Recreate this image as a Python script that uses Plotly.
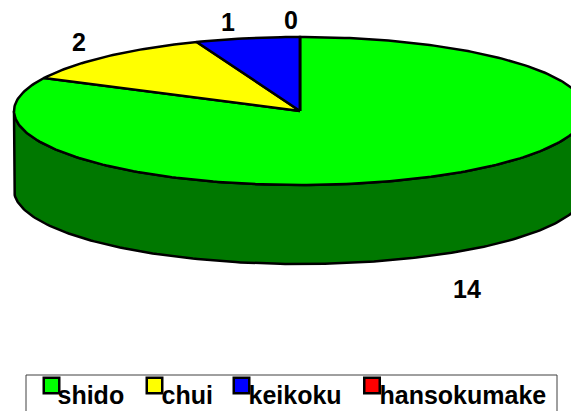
import numpy as np
import plotly.graph_objects as go

categories = ["shido", "chui", "keikoku", "hansokumake"]
values = [14, 2, 1, 0]
colors = ["#00ff00", "#ffff00", "#0000ff", "#ff0000"]
side_color = "#007800"

W, H = 571, 411
CX, CY, RX, RY, DEPTH = 300, 111, 286, 74, 79
LW = 2.5
FONT = dict(family="Liberation Sans, Arial, sans-serif", size=25, color="#000000", weight="bold")
LABEL_POS = [(467, 292), (79, 45), (228, 25), (291, 23)]
LEGEND_SWATCH_X = [51.5, 154.5, 241.5, 372]
LEGEND_TEXT_X = [57.5, 161.5, 248.5, 379.5]


def ell(deg, dy=0):
    a = np.radians(deg)
    return CX + RX * np.sin(a), CY - RY * np.cos(a) + dy


fig = go.Figure()

# side wall: front half of the rim, swept down by DEPTH
front = np.linspace(90, 270, 181)
x1, y1 = ell(front)
x2, y2 = ell(front[::-1], DEPTH)
fig.add_trace(go.Scatter(
    x=np.r_[x1, x2, x1[0]], y=np.r_[y1, y2, y1[0]], mode="lines", fill="toself",
    fillcolor=side_color, line=dict(color="black", width=LW), hoverinfo="skip"))

# top slices, clockwise from 12 o'clock
total = sum(values)
start = 0.0
for name, v, c in zip(categories, values, colors):
    sweep = 360.0 * v / total
    t = np.linspace(start, start + sweep, max(2, int(sweep) + 2))
    ex, ey = ell(t)
    fig.add_trace(go.Scatter(
        x=np.r_[CX, ex, CX], y=np.r_[CY, ey, CY], mode="lines", fill="toself",
        fillcolor=c, line=dict(color="black", width=LW), name=name))
    start += sweep

# data labels
fig.add_trace(go.Scatter(
    x=[p[0] for p in LABEL_POS], y=[p[1] for p in LABEL_POS], mode="text",
    text=[str(v) for v in values], textposition="middle center",
    textfont=FONT, hoverinfo="skip"))

# legend frame (runs past the bottom of the picture)
fig.add_shape(type="rect", x0=26, x1=557, y0=375, y1=430,
              line=dict(color="#404040", width=1), fillcolor="white", layer="below")

# legend swatches and texts
fig.add_trace(go.Scatter(
    x=LEGEND_SWATCH_X, y=[385.5] * 4, mode="markers",
    marker=dict(symbol="square", size=15.5, color=colors, line=dict(color="black", width=2.5)),
    hoverinfo="skip"))
fig.add_trace(go.Scatter(
    x=LEGEND_TEXT_X, y=[398] * 4, mode="text", text=categories,
    textposition="middle right", textfont=FONT, hoverinfo="skip"))

fig.update_layout(
    width=W, height=H,
    margin=dict(l=0, r=0, t=0, b=0), showlegend=False,
    paper_bgcolor="white", plot_bgcolor="white",
    xaxis=dict(range=[0, W], visible=False, fixedrange=True),
    yaxis=dict(range=[H, 0], visible=False, fixedrange=True),
)
fig.write_html(
    "out.html", config=dict(displayModeBar=False),
    default_width=f"{W}px", default_height=f"{H}px",
    post_script="document.body.style.margin='0';document.documentElement.style.overflow='hidden';",
)
